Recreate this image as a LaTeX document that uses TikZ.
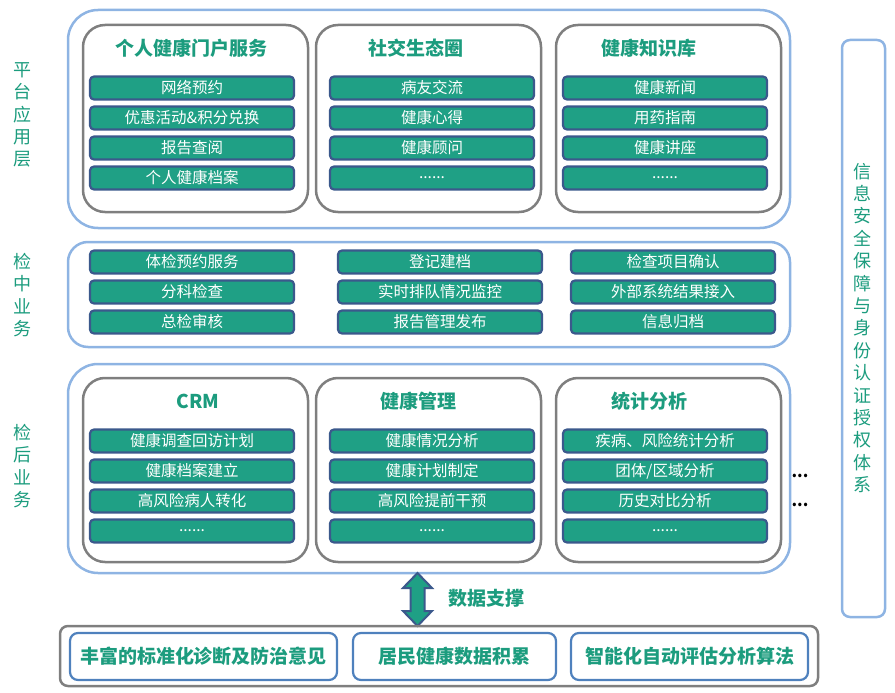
\documentclass[tikz,border=0pt]{standalone}
\usepackage{fontspec}
\setmainfont{Noto Sans CJK SC}
\definecolor{lineblue}{RGB}{142, 180, 227}
\definecolor{boxgrey}{RGB}{127, 127, 127}
\definecolor{itemblue}{RGB}{59, 89, 140}
\definecolor{itemgreen}{RGB}{31, 160, 133}
\definecolor{titlegreen}{RGB}{28, 156, 126}
\definecolor{baseblue}{RGB}{79, 129, 189}
\usetikzlibrary{positioning, calc}

\tikzset{
  platebox/.style={draw=lineblue, line width=2.5pt, rounded corners=30pt},
  groupbox/.style={draw=boxgrey, line width=2.5pt, rounded corners=22pt},
  itembox/.style={draw=itemblue, fill=itemgreen, line width=2.2pt, rounded corners=4pt,
    minimum width=204pt, minimum height=23pt, inner sep=0pt, text=white,
    font=\fontsize{15.5}{15.5}\selectfont},
  grouptitle/.style={text=titlegreen, font=\fontsize{19}{19}\selectfont\bfseries},
  layerlabel/.style={text=titlegreen, align=center, inner sep=0pt,
    font=\fontsize{18}{22.4}\selectfont},
  basebox/.style={draw=baseblue, line width=2.2pt, rounded corners=8pt, minimum height=47pt,
    inner sep=0pt, text=titlegreen, font=\fontsize{19}{19}\selectfont\bfseries}
}

\begin{document}
\begin{tikzpicture}[x=1pt, y=-1pt]
  \useasboundingbox (0,0) rectangle (895,693);

  % layer labels
  \node[layerlabel] (lplat) at (22,115) {平\\台\\应\\用\\层};
  \node[layerlabel] (lmid) at (22,295) {检\\中\\业\\务};
  \node[layerlabel] (lpost) at (22,466) {检\\后\\业\\务};

  % security bar
  \draw[draw=lineblue, line width=2.5pt, rounded corners=8pt] (842,40) rectangle (885,617);
  \node[layerlabel] (lsafe) at (862,328) {信\\息\\安\\全\\保\\障\\与\\身\\份\\认\\证\\授\\权\\体\\系};

  % platform layer
  \draw[platebox] (68,10) rectangle (790,228);
  \draw[groupbox] (83,25) rectangle (308,212);
  \draw[groupbox] (316,25) rectangle (541,212);
  \draw[groupbox] (556,25) rectangle (781,212);
  \node[grouptitle] (tportal) at (191,48) {个人健康门户服务};
  \node[grouptitle] (tsocial) at (416,48) {社交生态圈};
  \node[grouptitle] (tknow) at (649,48) {健康知识库};
  \node[itembox] (p11) at (192,88) {网络预约};
  \node[itembox] (p12) at (192,118) {优惠活动\&积分兑换};
  \node[itembox] (p13) at (192,148) {报告查阅};
  \node[itembox] (p14) at (192,178) {个人健康档案};
  \node[itembox] (p21) at (432,88) {病友交流};
  \node[itembox] (p22) at (432,118) {健康心得};
  \node[itembox] (p23) at (432,148) {健康顾问};
  \node[itembox] (p24) at (432,178) {......};
  \node[itembox] (p31) at (665,88) {健康新闻};
  \node[itembox] (p32) at (665,118) {用药指南};
  \node[itembox] (p33) at (665,148) {健康讲座};
  \node[itembox] (p34) at (665,178) {......};

  % in-exam layer
  \draw[platebox, rounded corners=20pt] (68,242) rectangle (790,347);
  \node[itembox] (m11) at (192,262) {体检预约服务};
  \node[itembox] (m12) at (192,292) {分科检查};
  \node[itembox] (m13) at (192,322) {总检审核};
  \node[itembox] (m21) at (440,262) {登记建档};
  \node[itembox] (m22) at (440,292) {实时排队情况监控};
  \node[itembox] (m23) at (440,322) {报告管理发布};
  \node[itembox] (m31) at (673,262) {检查项目确认};
  \node[itembox] (m32) at (673,292) {外部系统结果接入};
  \node[itembox] (m33) at (673,322) {信息归档};

  % post-exam layer
  \draw[platebox] (68,364) rectangle (790,573);
  \draw[groupbox] (83,378) rectangle (308,562);
  \draw[groupbox] (316,378) rectangle (541,562);
  \draw[groupbox] (556,378) rectangle (781,562);
  \node[grouptitle] (tcrm) at (198,401) {CRM};
  \node[grouptitle] (tmanage) at (418,401) {健康管理};
  \node[grouptitle] (tstat) at (649,401) {统计分析};
  \node[itembox] (h11) at (192,441) {健康调查回访计划};
  \node[itembox] (h12) at (192,471) {健康档案建立};
  \node[itembox] (h13) at (192,501) {高风险病人转化};
  \node[itembox] (h14) at (192,531) {......};
  \node[itembox] (h21) at (432,441) {健康情况分析};
  \node[itembox] (h22) at (432,471) {健康计划制定};
  \node[itembox] (h23) at (432,501) {高风险提前干预};
  \node[itembox] (h24) at (432,531) {......};
  \node[itembox] (h31) at (665,441) {疾病、风险统计分析};
  \node[itembox] (h32) at (665,471) {团体/区域分析};
  \node[itembox] (h33) at (665,501) {历史对比分析};
  \node[itembox] (h34) at (665,531) {......};
  \node[font=\fontsize{16}{16}\selectfont\bfseries] (dots1) at (800,476) {...};
  \node[font=\fontsize{16}{16}\selectfont\bfseries] (dots2) at (800,505) {...};

  % data support arrow
  \coordinate (arrtop) at (417.5,573);
  \coordinate (arrbot) at (417.5,626);
  \draw[draw=itemblue, fill=itemgreen, line width=2pt, line join=miter]
    (arrtop) -- ++(14.5,15) -- ++(-7.5,0) -- ++(0,23) -- ++(7.5,0) -- (arrbot)
    -- ++(-14.5,-15) -- ++(7.5,0) -- ++(0,-23) -- ++(-7.5,0) -- cycle;
  \node[grouptitle, anchor=west] (tdata) at (445,598) {数据支撑};

  % data base
  \draw[draw=boxgrey, line width=2.5pt, rounded corners=8pt] (60,626) rectangle (818,686);
  \node[basebox, minimum width=267pt] (b1) at (203.5,656.5) {丰富的标准化诊断及防治意见};
  \node[basebox, minimum width=203pt] (b2) at (454.5,656.5) {居民健康数据积累};
  \node[basebox, minimum width=237pt] (b3) at (689.5,656.5) {智能化自动评估分析算法};
\end{tikzpicture}
\end{document}
